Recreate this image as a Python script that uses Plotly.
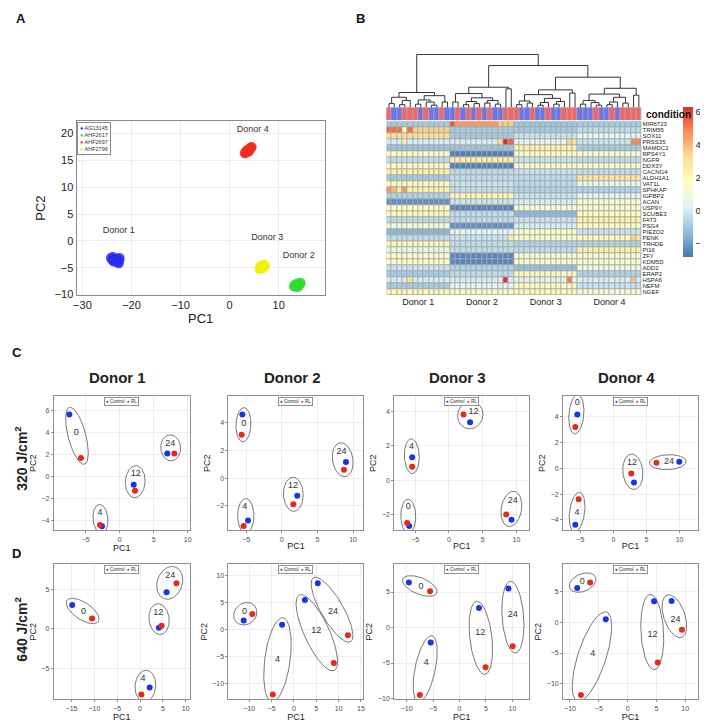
import numpy as np
import plotly.graph_objects as go

W, H = 708, 726
FONT = "Liberation Sans, Arial, sans-serif"

# ---------------- Panel A data ----------------
A_SERIES = ["AG13145", "AHF2617", "AHF2697", "AHF2796"]
A_AG13145_X = [-24.2, -23.9, -23.6, -23.4, -23.1, -22.9, -22.7, -22.5, -22.4, -22.6, -23.8, -23.3]
A_AG13145_Y = [-3.2, -3.6, -3.9, -3.4, -3.8, -3.3, -4.0, -3.6, -3.2, -4.2, -3.0, -3.7]
A_AHF2617_X = [13.1, 13.3, 13.5, 13.7, 13.9, 14.1, 14.4, 13.2, 13.6, 14.0, 14.5, 13.8]
A_AHF2617_Y = [-8.5, -8.2, -8.6, -8.0, -8.4, -7.9, -8.1, -8.4, -8.3, -8.6, -7.8, -8.2]
A_AHF2697_X = [3.1, 3.3, 3.5, 3.7, 3.9, 4.1, 4.3, 4.5, 3.2, 3.6, 4.0, 4.4]
A_AHF2697_Y = [16.3, 16.6, 16.9, 16.5, 17.0, 17.2, 17.4, 17.5, 16.4, 16.8, 16.7, 17.3]
A_AHF2796_X = [6.1, 6.3, 6.5, 6.7, 6.9, 7.1, 6.2, 6.6, 7.0, 6.4, 6.8, 7.2]
A_AHF2796_Y = [-5.3, -5.0, -4.7, -5.1, -4.8, -4.6, -4.9, -5.2, -4.5, -4.6, -4.9, -4.7]
A_LABELS = ["Donor 1", "Donor 2", "Donor 3", "Donor 4"]
A_LABEL_X = [-22.6, 14.1, 7.7, 4.7]
A_LABEL_Y = [1.9, -2.8, 0.55, 20.8]

# ---------------- Panel B data ----------------
GENES = ["MIR6723", "TRIM55", "SOX11", "PRSS35", "MAMDC2", "RPS4Y1", "NGFR", "DDX3Y",
         "CACNG4", "ALDH1A1", "VAT1L", "SPHKAP", "IGFBP2", "ACAN", "USP9Y", "SCUBE3",
         "FAT3", "PSG4", "PIEZO2", "PENK", "TRHDE", "PI16", "ZFY", "KDM5D", "ADD2",
         "ERAP2", "HSPA6", "NEFM", "NGEF"]
HM_DONORS = ["Donor 1", "Donor 2", "Donor 3", "Donor 4"]
# typical expression level of each gene within each donor block (Donor 1..4)
GENE_LEVELS = [
    [-1.0, 4.5, -1.2, -1.0],
    [3.5, -1.0, -1.0, -0.5],
    [3.2, -1.0, -0.3, 0.3],
    [0.0, 0.0, 0.5, -0.3],
    [-1.2, -1.2, 2.5, -1.0],
    [1.8, -2.6, 1.5, 1.5],
    [-0.5, 2.5, -0.3, -0.5],
    [1.5, -2.6, 1.5, 1.3],
    [2.5, -0.5, -0.3, -0.5],
    [-1.0, -0.5, -0.5, 3.0],
    [2.0, -0.3, -0.5, 0.5],
    [2.5, -0.5, -0.8, -0.8],
    [-0.8, 2.2, -0.3, 0.2],
    [-2.3, -0.3, 0.0, 1.5],
    [1.5, -2.5, 1.3, 1.3],
    [2.0, -0.5, -1.5, 1.8],
    [-0.5, -0.5, -0.3, 2.5],
    [1.0, -2.3, 0.0, 1.5],
    [-1.5, 0.3, 1.5, -0.3],
    [-0.5, -0.3, 1.3, 2.0],
    [2.2, -0.5, -0.8, -0.8],
    [0.5, -0.5, -0.5, 2.5],
    [1.5, -2.5, 1.3, 1.3],
    [1.5, -2.5, 1.3, 1.3],
    [-0.3, -0.8, -1.3, 0.8],
    [-1.0, -0.5, 2.0, -0.8],
    [0.0, 0.0, 0.3, 0.0],
    [-1.0, 0.3, 1.8, -0.3],
    [2.0, 1.5, 2.0, 1.2],
]
SAMPLES_PER_DONOR = 12
# individual cells that stand out from their block
OUT_GENE = ["MIR6723", "MIR6723", "MIR6723", "MIR6723",
            "TRIM55", "TRIM55", "TRIM55", "TRIM55", "TRIM55",
            "PRSS35", "PRSS35", "PRSS35", "PRSS35", "PRSS35", "PRSS35", "PRSS35", "PRSS35",
            "SPHKAP", "SPHKAP", "SPHKAP",
            "HSPA6", "HSPA6", "HSPA6", "HSPA6",
            "PENK", "PENK", "PENK"]
OUT_COL = [12, 21, 22, 23,
           0, 1, 2, 3, 4,
           3, 21, 22, 23, 34, 35, 46, 47,
           0, 1, 3,
           4, 22, 34, 46,
           23, 46, 47]
OUT_VAL = [5.6, 3.6, 3.6, 3.6,
           5.2, 5.2, 5.2, 2.0, 5.2,
           2.5, 3.2, 6.2, 5.4, 3.4, 3.0, 4.8, 4.8,
           4.6, 4.0, 4.6,
           3.2, 6.2, 5.0, 3.8,
           2.6, 3.4, 3.0]
# condition of each sample column (1 = RL, 0 = Control)
CONDITION = [1, 0, 0, 1, 1, 1, 0, 1, 0, 0, 1, 0,
             0, 1, 0, 1, 0, 1, 0, 1, 0, 0, 1, 1,
             1, 0, 0, 1, 0, 0, 1, 0, 0, 1, 1, 1,
             0, 0, 0, 1, 0, 0, 1, 0, 1, 1, 1, 1]
# dendrogram: [merge height, left, right], leaves are local column numbers
TREE_D1 = [2.8, [1.9, [0.7, 0, 1], [1.3, [0.5, 2, 3], 4]],
           [2.2, [1.4, [0.6, 5, 6], [1.0, 7, [0.4, 8, 9]]], [1.0, 10, 11]]]
TREE_D2 = [3.8, [2.6, [1.0, 0, 1], [1.8, [1.1, [0.5, 2, 3], [0.7, 4, 5]], [1.3, [0.8, 6, 7], [0.6, 8, 9]]]],
           [3.5, 10, 11]]
TREE_D3 = [3.3, [2.4, [1.2, [0.5, 0, 1], [0.8, 2, 3]], [1.7, [0.9, [0.4, 4, 5], 6], [1.1, [0.6, 7, 8], 9]]],
           [2.7, 10, 11]]
TREE_D4 = [3.6, [2.5, [1.3, [0.6, 0, 1], [0.9, 2, [0.4, 3, 4]]], [1.9, [1.0, [0.5, 5, 6], 7], [0.8, 8, 9]]],
           [2.3, 10, 11]]
TOP_HEIGHTS = [10.0, 7.9, 5.7]   # root, Donor2 vs (3,4), Donor3 vs Donor4

# ---------------- Panels C/D data (PC1, PC2) ----------------
TIMES = ["0", "4", "12", "24"]
C1_CONTROL_X = [-7.4, -2.6, 2.06, 7.0];   C1_CONTROL_Y = [5.6, -4.55, -0.78, 2.05]
C1_RL_X = [-5.7, -2.9, 2.25, 8.04];       C1_RL_Y = [1.66, -4.45, -1.32, 2.05]
C1_LABEL_X = [-6.4, -2.9, 2.35, 7.45];    C1_LABEL_Y = [3.95, -3.33, 0.19, 2.99]
C2_CONTROL_X = [-5.53, -4.74, 2.17, 9.0]; C2_CONTROL_Y = [4.59, -3.07, -1.27, 1.17]
C2_RL_X = [-5.63, -5.35, 1.62, 8.72];     C2_RL_Y = [3.13, -3.47, -1.9, 0.6]
C2_LABEL_X = [-5.35, -5.2, 1.57, 8.36];   C2_LABEL_Y = [3.9, -2.06, -0.53, 1.91]
C3_CONTROL_X = [-5.88, -5.44, 3.13, 9.26]; C3_CONTROL_Y = [-2.64, 1.34, 3.37, -2.28]
C3_RL_X = [-6.18, -5.44, 2.16, 8.48];     C3_RL_Y = [-2.47, 0.8, 3.82, -1.97]
C3_LABEL_X = [-6.03, -5.54, 3.63, 9.46];  C3_LABEL_Y = [-1.55, 1.94, 3.95, -1.15]
C4_CONTROL_X = [-5.46, -5.76, 3.1, 9.95]; C4_CONTROL_Y = [4.18, -4.39, -1.1, 0.51]
C4_RL_X = [-5.76, -5.26, 2.7, 6.5];       C4_RL_Y = [3.21, -2.4, -0.41, 0.44]
C4_LABEL_X = [-5.46, -5.51, 2.8, 8.4];    C4_LABEL_Y = [5.07, -3.47, 0.44, 0.48]
D1_CONTROL_X = [-14.85, 2.1, 4.13, 5.8];  D1_CONTROL_Y = [3.03, -7.44, 0.16, 4.67]
D1_RL_X = [-10.5, 0.29, 4.7, 7.97];       D1_RL_Y = [1.34, -8.32, 0.42, 5.8]
D1_LABEL_X = [-12.4, 0.65, 3.98, 6.6];    D1_LABEL_Y = [2.22, -6.27, 2.1, 6.76]
D2_CONTROL_X = [-11.26, -2.67, 2.44, 5.33]; D2_CONTROL_Y = [1.72, 0.93, 5.5, 8.64]
D2_RL_X = [-9.33, -4.74, 8.9, 12.07];     D2_RL_Y = [2.9, -12.1, -6.23, -1.05]
D2_LABEL_X = [-11.1, -3.7, 4.96, 8.74];   D2_LABEL_Y = [3.28, -5.6, -0.3, 3.4]
D3_CONTROL_X = [-9.57, -5.44, 3.68, 9.25]; D3_CONTROL_Y = [6.35, -2.12, 2.76, 5.5]
D3_RL_X = [-5.57, -7.5, 4.93, 10.06];     D3_RL_Y = [5.12, -9.5, -5.6, -2.64]
D3_LABEL_X = [-7.26, -6.27, 3.94, 10.06]; D3_LABEL_Y = [5.78, -5.03, -0.8, 1.83]
D4_CONTROL_X = [-8.74, -3.79, 4.6, 7.64]; D4_CONTROL_Y = [5.67, 0.54, 3.49, 3.54]
D4_RL_X = [-6.5, -8.1, 5.23, 9.43];       D4_RL_Y = [6.56, -11.87, -6.56, -1.21]
D4_LABEL_X = [-7.88, -6.03, 4.31, 8.33];  D4_LABEL_Y = [6.6, -5.14, -2.08, 0.43]

# ---------------- styling / layout helpers ----------------
A_COLORS = ["#2b2bf2", "#2fdc2f", "#f22a1e", "#f2f000"]
CTRL_COLOR = "#1337e6"
RL_COLOR = "#e52a18"
HM_SCALE = ["#4575B4", "#91BFDB", "#E0F3F8", "#FFFFBF", "#FEE090", "#FC8D59", "#D73027"]
COND_RED = "#f0676b"
COND_BLUE = "#6f72f0"


def xdom(a, b):
    return [a / W, b / W]


def ydom(t, b):
    return [1 - b / H, 1 - t / H]


def ax(k, kind):
    return (kind + "axis") if k == 1 else f"{kind}axis{k}"


def ref(k, kind):
    return kind if k == 1 else f"{kind}{k}"


fig = go.Figure()
layout = dict(width=W, height=H, margin=dict(l=0, r=0, t=0, b=0),
              paper_bgcolor="white", plot_bgcolor="white",
              font=dict(family=FONT, color="#222"), showlegend=False)
annotations = []
shapes = []

# ---------------- Panel A ----------------
a_x = [A_AG13145_X, A_AHF2617_X, A_AHF2697_X, A_AHF2796_X]
a_y = [A_AG13145_Y, A_AHF2617_Y, A_AHF2697_Y, A_AHF2796_Y]
for name, xs, ys, col in zip(A_SERIES, a_x, a_y, A_COLORS):
    fig.add_trace(go.Scatter(x=xs, y=ys, mode="markers", name=name,
                             marker=dict(color=col, size=10, opacity=0.8, line=dict(width=0)),
                             xaxis="x", yaxis="y"))
fig.add_trace(go.Scatter(x=A_LABEL_X, y=A_LABEL_Y, text=A_LABELS, mode="text",
                         textfont=dict(size=9, color="#333"),
                         xaxis="x", yaxis="y", cliponaxis=False))
a_axis = dict(showgrid=True, gridcolor="#ececec", gridwidth=1, zeroline=False,
              showline=True, mirror=True, linecolor="#8a8a8a", linewidth=1,
              ticks="", tickfont=dict(size=11, color="#222"))
layout["xaxis"] = dict(a_axis, domain=xdom(66, 316), range=[-31.2, 19.4], anchor="y",
                       tickvals=[-30, -20, -10, 0, 10],
                       title=dict(text="PC1", font=dict(size=13, color="#222"), standoff=2))
layout["yaxis"] = dict(a_axis, domain=ydom(114, 289), range=[-10.1, 22.3], anchor="x",
                       tickvals=[-10, -5, 0, 5, 10, 15, 20],
                       title=dict(text="PC2", font=dict(size=13, color="#222"), standoff=6))
a_legend = "<br>".join(f"<span style='color:{c}'>●</span> {n}" for n, c in zip(A_SERIES, A_COLORS))
annotations.append(dict(text=a_legend, x=66.5 / W, y=1 - 114.5 / H, xref="paper", yref="paper",
                        xanchor="left", yanchor="top", align="left", showarrow=False,
                        font=dict(size=5.5, color="#333"), bordercolor="#8a8a8a", borderwidth=1,
                        borderpad=2, bgcolor="white"))

# ---------------- Panel B ----------------
n_cols = SAMPLES_PER_DONOR * len(HM_DONORS)
z = [[GENE_LEVELS[g][c // SAMPLES_PER_DONOR] for c in range(n_cols)] for g in range(len(GENES))]
for gname, c, v in zip(OUT_GENE, OUT_COL, OUT_VAL):
    z[GENES.index(gname)][c] = v
zmin, zmax = -2.85, 6.24
hm_scale = [[i / (len(HM_SCALE) - 1), c] for i, c in enumerate(HM_SCALE)]
fig.add_trace(go.Heatmap(z=z, x=list(range(n_cols)), y=list(range(len(GENES))),
                         colorscale=hm_scale, zmin=zmin, zmax=zmax, xgap=1, ygap=1,
                         xaxis="x2", yaxis="y2", showscale=True,
                         colorbar=dict(x=677 / W, xanchor="left", y=1 - 100 / H, yanchor="top",
                                       len=150, lenmode="pixels", thickness=10,
                                       outlinewidth=0, xpad=0, ypad=0,
                                       tickvals=[-2, 0, 2, 4, 6], ticks="", ticklen=0,
                                       tickfont=dict(size=9.5, color="#222"))))
shapes.append(dict(type="rect", xref="x2", yref="y2", x0=-0.5, x1=n_cols - 0.5,
                   y0=-0.5, y1=len(GENES) - 0.5, fillcolor="#a8a8a8",
                   line=dict(width=0), layer="below"))
donor_centers = [SAMPLES_PER_DONOR * i + (SAMPLES_PER_DONOR - 1) / 2 for i in range(len(HM_DONORS))]
layout["xaxis2"] = dict(domain=xdom(378, 635), range=[-0.5, n_cols - 0.5], anchor="y2",
                        showgrid=False, zeroline=False, showline=False, ticks="",
                        tickvals=donor_centers, ticktext=HM_DONORS,
                        tickfont=dict(size=9, color="#222"))
layout["yaxis2"] = dict(domain=ydom(114, 289), range=[len(GENES) - 0.5, -0.5], anchor="x2",
                        side="right", showgrid=False, zeroline=False, showline=False, ticks="",
                        tickvals=list(range(len(GENES))), ticktext=GENES,
                        tickfont=dict(size=6, color="#222"))

# condition bar
fig.add_trace(go.Heatmap(z=[CONDITION], x=list(range(n_cols)), y=[0], xgap=1,
                         colorscale=[[0, COND_BLUE], [0.5, COND_BLUE], [0.5, COND_RED], [1, COND_RED]],
                         zmin=0, zmax=1, showscale=False, xaxis="x3", yaxis="y3"))
shapes.append(dict(type="rect", xref="x3", yref="y3", x0=-0.5, x1=n_cols - 0.5,
                   y0=-0.5, y1=0.5, fillcolor="#a8a8a8", line=dict(width=0), layer="below"))
hidden = dict(showgrid=False, zeroline=False, showline=False, showticklabels=False, ticks="")
layout["xaxis3"] = dict(hidden, domain=xdom(378, 635), range=[-0.5, n_cols - 0.5], anchor="y3")
layout["yaxis3"] = dict(hidden, domain=ydom(100, 113), range=[-0.5, 0.5], anchor="x3")
annotations.append(dict(text="<b>condition</b>", x=638 / W, y=1 - 107 / H, xref="paper", yref="paper",
                        xanchor="left", yanchor="middle", showarrow=False,
                        font=dict(size=10, color="#111")))


# dendrogram
def shift(node, k):
    if isinstance(node, int):
        return node + k
    return [node[0], shift(node[1], k), shift(node[2], k)]


donor_trees = [shift(t, SAMPLES_PER_DONOR * i) for i, t in enumerate([TREE_D1, TREE_D2, TREE_D3, TREE_D4])]
full_tree = [TOP_HEIGHTS[0], donor_trees[0],
             [TOP_HEIGHTS[1], donor_trees[1], [TOP_HEIGHTS[2], donor_trees[2], donor_trees[3]]]]
dx, dy = [], []


def walk(node):
    if isinstance(node, int):
        return float(node), 0.0
    h = node[0]
    xl, hl = walk(node[1])
    xr, hr = walk(node[2])
    dx.extend([xl, xl, xr, xr, None])
    dy.extend([hl, h, h, hr, None])
    return (xl + xr) / 2, h


walk(full_tree)
fig.add_trace(go.Scatter(x=dx, y=dy, mode="lines", line=dict(color="#333", width=1),
                         xaxis="x4", yaxis="y4", hoverinfo="skip"))
layout["xaxis4"] = dict(hidden, domain=xdom(378, 635), range=[-0.5, n_cols - 0.5], anchor="y4")
layout["yaxis4"] = dict(hidden, domain=ydom(46, 100), range=[0, 10.15], anchor="x4")

# ---------------- Panels C and D ----------------
COL_X = [(43, 180), (219, 355), (386, 522), (556, 692)]
ROW_Y = [(391, 526), (560, 696)]
RANGES = [
    ([-9.7, 10.3], [-4.93, 7.26], [-5, 0, 5, 10], [-4, -2, 0, 2, 4, 6]),
    ([-7.48, 11.46], [-3.78, 5.91], [-5, 0, 5, 10], [-2, 0, 2, 4]),
    ([-8.09, 11.9], [-2.89, 4.87], [-5, 0, 5, 10], [-2, 0, 2, 4]),
    ([-7.61, 12.8], [-4.82, 5.59], [-5, 0, 5, 10], [-4, -2, 0, 2, 4]),
    ([-18.9, 10.87], [-8.92, 8.23], [-15, -10, -5, 0, 5, 10], [-5, 0, 5]),
    ([-14.67, 15.56], [-12.96, 12.2], [-10, -5, 0, 5, 10, 15], [-10, -5, 0, 5, 10]),
    ([-12.33, 13.2], [-10.1, 8.93], [-10, -5, 0, 5, 10], [-10, -5, 0, 5]),
    ([-11.2, 12.24], [-12.57, 9.56], [-10, -5, 0, 5, 10], [-10, -5, 0, 5]),
]
PANELS = [
    (C1_CONTROL_X, C1_CONTROL_Y, C1_RL_X, C1_RL_Y, C1_LABEL_X, C1_LABEL_Y),
    (C2_CONTROL_X, C2_CONTROL_Y, C2_RL_X, C2_RL_Y, C2_LABEL_X, C2_LABEL_Y),
    (C3_CONTROL_X, C3_CONTROL_Y, C3_RL_X, C3_RL_Y, C3_LABEL_X, C3_LABEL_Y),
    (C4_CONTROL_X, C4_CONTROL_Y, C4_RL_X, C4_RL_Y, C4_LABEL_X, C4_LABEL_Y),
    (D1_CONTROL_X, D1_CONTROL_Y, D1_RL_X, D1_RL_Y, D1_LABEL_X, D1_LABEL_Y),
    (D2_CONTROL_X, D2_CONTROL_Y, D2_RL_X, D2_RL_Y, D2_LABEL_X, D2_LABEL_Y),
    (D3_CONTROL_X, D3_CONTROL_Y, D3_RL_X, D3_RL_Y, D3_LABEL_X, D3_LABEL_Y),
    (D4_CONTROL_X, D4_CONTROL_Y, D4_RL_X, D4_RL_Y, D4_LABEL_X, D4_LABEL_Y),
]


def ellipse(px, py, lx, ly, lab, xr, yr, wpx, hpx):
    sx = wpx / (xr[1] - xr[0])
    sy = hpx / (yr[1] - yr[0])
    P = np.array([[(x - xr[0]) * sx, (y - yr[0]) * sy] for x, y in zip(px, py)])
    L = np.array([(lx - xr[0]) * sx, (ly - yr[0]) * sy])
    cen = np.vstack([P, L])
    vals, vecs = np.linalg.eigh(np.cov(cen.T))
    u, v = vecs[:, 1], vecs[:, 0]
    hw, hh = 1.5 + 2.6 * len(lab), 4.0
    pts = [p + d for p in P for d in (3 * u, -3 * u, 3 * v, -3 * v)]
    pts += [L + np.array([sxo, syo]) for sxo in (-hw, hw) for syo in (-hh, hh)]
    pts = np.array(pts)
    pu, pv = pts @ u, pts @ v
    a = (pu.max() - pu.min()) / 2 + 4
    b = max((pv.max() - pv.min()) / 2 + 3, 0.3 * a, 7.5)
    c = u * (pu.max() + pu.min()) / 2 + v * (pv.max() + pv.min()) / 2
    t = np.linspace(0, 2 * np.pi, 81)
    E = c[None, :] + np.outer(a * np.cos(t), u) + np.outer(b * np.sin(t), v)
    return list(E[:, 0] / sx + xr[0]), list(E[:, 1] / sy + yr[0])


p_axis = dict(showgrid=True, gridcolor="#ededed", gridwidth=1, zeroline=False,
              showline=True, mirror=True, linecolor="#8f8f8f", linewidth=1,
              ticks="outside", ticklen=2, tickcolor="#8f8f8f",
              tickfont=dict(size=7, color="#4d4d4d"))
legend_text = (f"<span style='color:{CTRL_COLOR}'>●</span> Control  "
               f"<span style='color:{RL_COLOR}'>●</span> RL")
for i, (data, rng) in enumerate(zip(PANELS, RANGES)):
    k = 5 + i
    xa, ya = ref(k, "x"), ref(k, "y")
    x0, x1 = COL_X[i % 4]
    y0, y1 = ROW_Y[i // 4]
    cx, cy, rx, ry, lx, ly = data
    xr, yr, xt, yt = rng
    for j in range(len(TIMES)):
        ex, ey = ellipse([cx[j], rx[j]], [cy[j], ry[j]], lx[j], ly[j], TIMES[j],
                         xr, yr, x1 - x0, y1 - y0)
        fig.add_trace(go.Scatter(x=ex, y=ey, mode="lines", line=dict(color="#555", width=0.8),
                                 xaxis=xa, yaxis=ya, hoverinfo="skip"))
    fig.add_trace(go.Scatter(x=cx, y=cy, mode="markers", name="Control",
                             marker=dict(color=CTRL_COLOR, size=6), xaxis=xa, yaxis=ya))
    fig.add_trace(go.Scatter(x=rx, y=ry, mode="markers", name="RL",
                             marker=dict(color=RL_COLOR, size=6), xaxis=xa, yaxis=ya))
    fig.add_trace(go.Scatter(x=lx, y=ly, text=TIMES, mode="text",
                             textfont=dict(size=9, color="#333"), xaxis=xa, yaxis=ya,
                             cliponaxis=False))
    layout[ax(k, "x")] = dict(p_axis, domain=xdom(x0, x1), range=xr, tickvals=xt, anchor=ya,
                              title=dict(text="PC1", font=dict(size=9, color="#222"), standoff=0))
    layout[ax(k, "y")] = dict(p_axis, domain=ydom(y0, y1), range=yr, tickvals=yt, anchor=xa,
                              title=dict(text="PC2", font=dict(size=9, color="#222"), standoff=3))
    annotations.append(dict(text=legend_text, x=(x0 + x1) / 2 / W, y=1 - (y0 + 0.5) / H,
                            xref="paper", yref="paper", xanchor="center", yanchor="top",
                            showarrow=False, font=dict(size=4.5, color="#222"),
                            bordercolor="#777", borderwidth=0.8, borderpad=1.2, bgcolor="white"))

# titles and panel letters
for i, name in enumerate(HM_DONORS):
    x0, x1 = COL_X[i]
    annotations.append(dict(text=f"<b>{name}</b>", x=(x0 + x1) / 2 / W - 4 / W, y=1 - 372 / H,
                            xref="paper", yref="paper", xanchor="center", yanchor="middle",
                            showarrow=False, font=dict(size=15, color="#222")))
for txt, yc in [("320 J/cm<sup>2</sup>", 453), ("640 J/cm<sup>2</sup>", 625)]:
    annotations.append(dict(text=f"<b>{txt}</b>", x=10 / W, y=1 - yc / H, xref="paper", yref="paper",
                            xanchor="center", yanchor="middle", textangle=-90, showarrow=False,
                            font=dict(size=14, color="#222")))
for letter, lx_, ly_ in [("A", 10, 11), ("B", 352, 11), ("C", 6, 347), ("D", 6, 549)]:
    annotations.append(dict(text=f"<b>{letter}</b>", x=lx_ / W, y=1 - ly_ / H, xref="paper",
                            yref="paper", xanchor="center", yanchor="middle", showarrow=False,
                            font=dict(size=13, color="#111")))

layout["annotations"] = annotations
layout["shapes"] = shapes
fig.update_layout(**layout)
fig.write_html("out.html", config=dict(displayModeBar=False))
